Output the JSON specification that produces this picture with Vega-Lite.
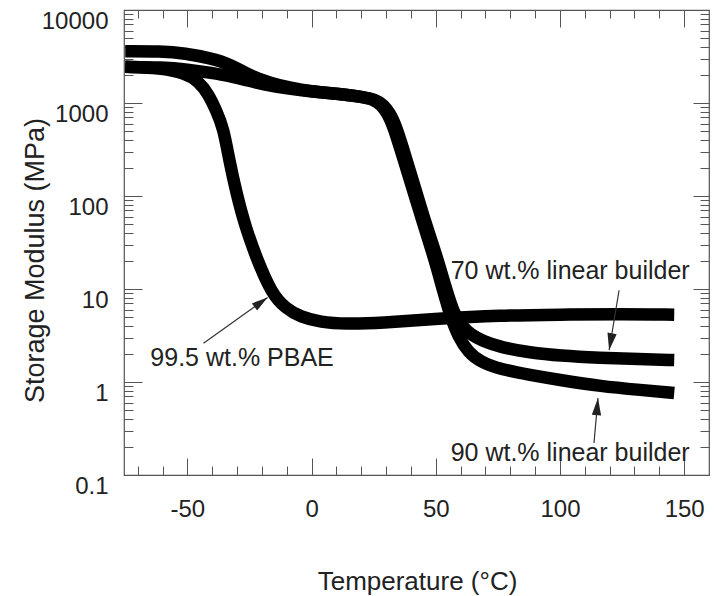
{
  "$schema": "https://vega.github.io/schema/vega-lite/v6.json",
  "width": 585,
  "height": 465,
  "autosize": "none",
  "padding": {"left": 124, "top": 10, "right": 10, "bottom": 121},
  "background": "white",
  "config": {
    "view": {"stroke": "#555", "strokeWidth": 1.2},
    "font": "Liberation Sans",
    "axis": {
      "domain": false,
      "grid": false,
      "labelFont": "Liberation Sans",
      "titleFont": "Liberation Sans",
      "labelColor": "#222",
      "titleColor": "#222",
      "titleFontWeight": "normal",
      "tickColor": "#555",
      "tickWidth": 1,
      "labelFlush": false,
      "labelOverlap": false
    }
  },
  "datasets": {
    "curves": [
      {"series": "90 wt.% linear builder", "T": -75, "E": 3600},
      {"series": "90 wt.% linear builder", "T": -61, "E": 3600},
      {"series": "90 wt.% linear builder", "T": -50.8, "E": 3430},
      {"series": "90 wt.% linear builder", "T": -40.7, "E": 3030},
      {"series": "90 wt.% linear builder", "T": -32.7, "E": 2620},
      {"series": "90 wt.% linear builder", "T": -24.6, "E": 1950},
      {"series": "90 wt.% linear builder", "T": -16.5, "E": 1640},
      {"series": "90 wt.% linear builder", "T": -8.5, "E": 1450},
      {"series": "90 wt.% linear builder", "T": 0, "E": 1330},
      {"series": "90 wt.% linear builder", "T": 10, "E": 1260},
      {"series": "90 wt.% linear builder", "T": 20, "E": 1170},
      {"series": "90 wt.% linear builder", "T": 25, "E": 1090},
      {"series": "90 wt.% linear builder", "T": 28, "E": 960},
      {"series": "90 wt.% linear builder", "T": 30.5, "E": 780},
      {"series": "90 wt.% linear builder", "T": 33, "E": 560},
      {"series": "90 wt.% linear builder", "T": 37, "E": 250},
      {"series": "90 wt.% linear builder", "T": 41, "E": 112},
      {"series": "90 wt.% linear builder", "T": 45, "E": 50},
      {"series": "90 wt.% linear builder", "T": 49.5, "E": 21},
      {"series": "90 wt.% linear builder", "T": 53, "E": 9.5},
      {"series": "90 wt.% linear builder", "T": 56, "E": 5},
      {"series": "90 wt.% linear builder", "T": 59, "E": 3.1},
      {"series": "90 wt.% linear builder", "T": 63, "E": 2.1},
      {"series": "90 wt.% linear builder", "T": 68, "E": 1.65},
      {"series": "90 wt.% linear builder", "T": 76, "E": 1.37},
      {"series": "90 wt.% linear builder", "T": 88, "E": 1.19},
      {"series": "90 wt.% linear builder", "T": 100, "E": 1.05},
      {"series": "90 wt.% linear builder", "T": 116.5, "E": 0.9},
      {"series": "90 wt.% linear builder", "T": 132.7, "E": 0.82},
      {"series": "90 wt.% linear builder", "T": 146, "E": 0.76},
      {"series": "70 wt.% linear builder", "T": -75, "E": 2450},
      {"series": "70 wt.% linear builder", "T": -60, "E": 2420},
      {"series": "70 wt.% linear builder", "T": -50, "E": 2300},
      {"series": "70 wt.% linear builder", "T": -40, "E": 2100},
      {"series": "70 wt.% linear builder", "T": -33, "E": 1950},
      {"series": "70 wt.% linear builder", "T": -26, "E": 1750},
      {"series": "70 wt.% linear builder", "T": -20, "E": 1600},
      {"series": "70 wt.% linear builder", "T": -8.5, "E": 1410},
      {"series": "70 wt.% linear builder", "T": 0, "E": 1330},
      {"series": "70 wt.% linear builder", "T": 10, "E": 1260},
      {"series": "70 wt.% linear builder", "T": 20, "E": 1170},
      {"series": "70 wt.% linear builder", "T": 26, "E": 1080},
      {"series": "70 wt.% linear builder", "T": 29, "E": 950},
      {"series": "70 wt.% linear builder", "T": 31.5, "E": 780},
      {"series": "70 wt.% linear builder", "T": 34, "E": 570},
      {"series": "70 wt.% linear builder", "T": 38, "E": 257},
      {"series": "70 wt.% linear builder", "T": 42, "E": 114},
      {"series": "70 wt.% linear builder", "T": 46, "E": 50},
      {"series": "70 wt.% linear builder", "T": 50.5, "E": 22},
      {"series": "70 wt.% linear builder", "T": 54.3, "E": 9.7},
      {"series": "70 wt.% linear builder", "T": 57.5, "E": 5.3},
      {"series": "70 wt.% linear builder", "T": 60.5, "E": 4.0},
      {"series": "70 wt.% linear builder", "T": 64, "E": 3.25},
      {"series": "70 wt.% linear builder", "T": 69, "E": 2.75},
      {"series": "70 wt.% linear builder", "T": 76, "E": 2.37},
      {"series": "70 wt.% linear builder", "T": 88, "E": 2.07},
      {"series": "70 wt.% linear builder", "T": 100, "E": 1.92},
      {"series": "70 wt.% linear builder", "T": 116, "E": 1.82},
      {"series": "70 wt.% linear builder", "T": 132, "E": 1.76},
      {"series": "70 wt.% linear builder", "T": 146, "E": 1.72},
      {"series": "99.5 wt.% PBAE", "T": -75, "E": 2450},
      {"series": "99.5 wt.% PBAE", "T": -61, "E": 2380},
      {"series": "99.5 wt.% PBAE", "T": -50.8, "E": 2100},
      {"series": "99.5 wt.% PBAE", "T": -45.6, "E": 1720},
      {"series": "99.5 wt.% PBAE", "T": -41.5, "E": 1250},
      {"series": "99.5 wt.% PBAE", "T": -38.3, "E": 820},
      {"series": "99.5 wt.% PBAE", "T": -35.5, "E": 540},
      {"series": "99.5 wt.% PBAE", "T": -33.1, "E": 240},
      {"series": "99.5 wt.% PBAE", "T": -30.2, "E": 106},
      {"series": "99.5 wt.% PBAE", "T": -26.6, "E": 46},
      {"series": "99.5 wt.% PBAE", "T": -21.8, "E": 20.3},
      {"series": "99.5 wt.% PBAE", "T": -16.1, "E": 9},
      {"series": "99.5 wt.% PBAE", "T": -10.5, "E": 6.2},
      {"series": "99.5 wt.% PBAE", "T": -4.4, "E": 5.0},
      {"series": "99.5 wt.% PBAE", "T": 3.6, "E": 4.4},
      {"series": "99.5 wt.% PBAE", "T": 13.7, "E": 4.2},
      {"series": "99.5 wt.% PBAE", "T": 27.8, "E": 4.3},
      {"series": "99.5 wt.% PBAE", "T": 50.8, "E": 4.8},
      {"series": "99.5 wt.% PBAE", "T": 76, "E": 5.2},
      {"series": "99.5 wt.% PBAE", "T": 100, "E": 5.3},
      {"series": "99.5 wt.% PBAE", "T": 124.6, "E": 5.4},
      {"series": "99.5 wt.% PBAE", "T": 146, "E": 5.3}
    ],
    "labels": [
      {"label": "99.5 wt.% PBAE", "T": -64.9, "E": 1.8},
      {"label": "70 wt.% linear builder", "T": 56, "E": 15.8},
      {"label": "90 wt.% linear builder", "T": 56, "E": 0.173}
    ],
    "arrows": [
      {"arrow": "PBAE", "T": -43.5, "E": 2.61, "T2": -17.7, "E2": 8.1},
      {"arrow": "70", "T": 123.8, "E": 9.7, "T2": 119.8, "E2": 2.2},
      {"arrow": "90", "T": 113.7, "E": 0.221, "T2": 115.3, "E2": 0.671}
    ]
  },
  "resolve": {"axis": {"x": "independent", "y": "independent"}},
  "layer": [
    {
      "data": {"name": "curves"},
      "mark": {"type": "line", "color": "black", "strokeWidth": 12.5, "interpolate": "basis", "clip": true, "strokeCap": "butt", "strokeJoin": "round"},
      "encoding": {
        "x": {"field": "T", "type": "quantitative",
          "scale": {"domain": [-75.5, 160], "nice": false, "zero": false},
          "axis": {"orient": "bottom", "values": [-50, 0, 50, 100, 150], "ticks": false, "labelPadding": 22, "labelFontSize": 24,
            "labelExpr": "datum.value < 0 ? '-' + abs(datum.value) : '' + datum.value",
            "title": "Temperature (°C)", "titleFontSize": 26, "titleX": 293, "titleY": 114, "titleBaseline": "alphabetic"}},
        "y": {"field": "E", "type": "quantitative",
          "scale": {"type": "log", "domain": [0.1, 10000], "nice": false},
          "axis": {"orient": "left", "values": [0.1, 1, 10, 100, 1000, 10000], "format": "~g", "ticks": false, "labelPadding": 16, "labelFontSize": 24, "labelOffset": 11,
            "title": "Storage Modulus (MPa)", "titleFontSize": 27, "titleX": -81, "titleY": 250, "titleBaseline": "alphabetic"}},
        "detail": {"field": "series", "type": "nominal"}
      }
    },
    {
      "data": {"name": "arrows"},
      "mark": {"type": "rule", "color": "#333", "strokeWidth": 1.2},
      "encoding": {
        "x": {"field": "T", "type": "quantitative", "scale": {"domain": [-75.5, 160], "nice": false, "zero": false},
          "axis": {"orient": "bottom", "values": [-50, 0, 50, 100, 150], "labels": false, "tickSize": -17, "title": null}},
        "x2": {"field": "T2"},
        "y": {"field": "E", "type": "quantitative", "scale": {"type": "log", "domain": [0.1, 10000], "nice": false},
          "axis": {"orient": "left", "values": [0.1, 1, 10, 100, 1000, 10000], "labels": false, "tickSize": -18, "title": null}},
        "y2": {"field": "E2"}
      }
    },
    {
      "data": {"name": "arrows"},
      "transform": [{"filter": "datum.arrow === 'PBAE'"}],
      "mark": {"type": "point", "shape": "M0,0L0.55,2L-0.55,2Z", "filled": true, "opacity": 1, "color": "#222", "size": 260, "angle": 54, "strokeWidth": 0},
      "encoding": {
        "x": {"field": "T2", "type": "quantitative", "scale": {"domain": [-75.5, 160], "nice": false, "zero": false},
          "axis": {"orient": "bottom", "values": [-70, -60, -40, -30, -20, -10, 10, 20, 30, 40, 60, 70, 80, 90, 110, 120, 130, 140], "labels": false, "tickSize": -9, "title": null}},
        "y": {"field": "E2", "type": "quantitative", "scale": {"type": "log", "domain": [0.1, 10000], "nice": false},
          "axis": {"orient": "left", "values": [0.2, 0.3, 0.4, 0.5, 0.6, 0.7, 0.8, 0.9, 2, 3, 4, 5, 6, 7, 8, 9, 20, 30, 40, 50, 60, 70, 80, 90, 200, 300, 400, 500, 600, 700, 800, 900, 2000, 3000, 4000, 5000, 6000, 7000, 8000, 9000], "labels": false, "tickSize": -9, "title": null}}
      }
    },
    {
      "data": {"name": "arrows"},
      "transform": [{"filter": "datum.arrow === '70'"}],
      "mark": {"type": "point", "shape": "M0,0L0.55,2L-0.55,2Z", "filled": true, "opacity": 1, "color": "#222", "size": 289, "angle": 190, "strokeWidth": 0},
      "encoding": {
        "x": {"field": "T2", "type": "quantitative", "scale": {"domain": [-75.5, 160], "nice": false, "zero": false},
          "axis": {"orient": "top", "values": [-50, 0, 50, 100, 150], "labels": false, "tickSize": -17, "title": null}},
        "y": {"field": "E2", "type": "quantitative", "scale": {"type": "log", "domain": [0.1, 10000], "nice": false},
          "axis": {"orient": "right", "values": [0.1, 1, 10, 100, 1000, 10000], "labels": false, "tickSize": -16, "title": null}}
      }
    },
    {
      "data": {"name": "arrows"},
      "transform": [{"filter": "datum.arrow === '90'"}],
      "mark": {"type": "point", "shape": "M0,0L0.55,2L-0.55,2Z", "filled": true, "opacity": 1, "color": "#222", "size": 289, "angle": 5, "strokeWidth": 0},
      "encoding": {
        "x": {"field": "T2", "type": "quantitative", "scale": {"domain": [-75.5, 160], "nice": false, "zero": false},
          "axis": {"orient": "top", "values": [-70, -60, -40, -30, -20, -10, 10, 20, 30, 40, 60, 70, 80, 90, 110, 120, 130, 140], "labels": false, "tickSize": -8, "title": null}},
        "y": {"field": "E2", "type": "quantitative", "scale": {"type": "log", "domain": [0.1, 10000], "nice": false},
          "axis": {"orient": "right", "values": [0.2, 0.3, 0.4, 0.5, 0.6, 0.7, 0.8, 0.9, 2, 3, 4, 5, 6, 7, 8, 9, 20, 30, 40, 50, 60, 70, 80, 90, 200, 300, 400, 500, 600, 700, 800, 900, 2000, 3000, 4000, 5000, 6000, 7000, 8000, 9000], "labels": false, "tickSize": -9, "title": null}}
      }
    },
    {
      "data": {"name": "labels"},
      "mark": {"type": "text", "align": "left", "baseline": "middle", "fontSize": 25, "color": "#222", "font": "Liberation Sans"},
      "encoding": {
        "x": {"field": "T", "type": "quantitative", "scale": {"domain": [-75.5, 160], "nice": false, "zero": false}, "axis": null},
        "y": {"field": "E", "type": "quantitative", "scale": {"type": "log", "domain": [0.1, 10000], "nice": false}, "axis": null},
        "text": {"field": "label", "type": "nominal"}
      }
    }
  ]
}
